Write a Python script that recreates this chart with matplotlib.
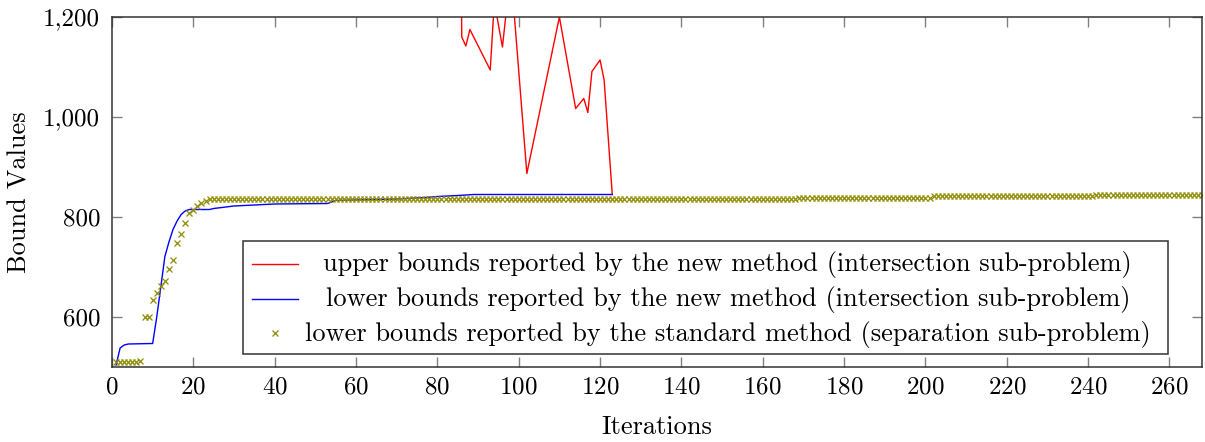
import matplotlib
matplotlib.use("Agg")
import matplotlib.pyplot as plt
from matplotlib.ticker import FuncFormatter, MultipleLocator
from matplotlib.patches import Rectangle
from matplotlib.lines import Line2D

plt.rcParams['font.family'] = ['cmr10', 'DejaVu Serif']
plt.rcParams['axes.formatter.use_mathtext'] = True

# upper bounds, new method (values above 1,200 fall outside the view)
upper_it = [85, 86, 87, 88, 93, 94, 96, 97, 98, 99, 102, 110, 114, 116, 117, 118, 120, 121, 123]
upper_val = [2000, 1160, 1142, 1175, 1094, 1230, 1140, 1216, 1290, 1195, 887, 1200, 1017, 1037, 1009, 1091,
             1114, 1074, 845]

# lower bounds, new method
lower_it = [1, 2, 3, 4, 10, 11, 12, 13, 14, 15, 16, 17, 18, 19, 24, 25, 30, 35, 40, 53, 54, 55, 60, 70,
            77, 80, 85, 89, 123]
lower_val = [504, 538, 544, 546, 547, 600, 660, 721, 750, 775, 792, 805, 812, 815, 815, 817, 822, 824, 826,
             827, 830, 833, 834, 836, 839, 841, 843, 845, 845]

# lower bounds, standard method (one per iteration)
std_it = list(range(1, 269))
std_val = ([510] * 6 + [513, 600, 600, 635, 649, 662, 672, 696, 715, 749, 766, 789, 809, 815, 823, 829, 833]
           + [837] * 145 + [839] * 33 + [842] * 40 + [845] * 27)

fig = plt.figure(figsize=(12.05, 4.42), dpi=100)
ax = fig.add_axes([112 / 1205, 1 - 367 / 442, 1090 / 1205, 350 / 442])

ax.plot(upper_it, upper_val, color='#ff0000', lw=1.0)
ax.plot(lower_it, lower_val, color='#0000ff', lw=1.0)
olive = '#8f8c00'
ax.plot(std_it, std_val, ls='none', marker='x', ms=4.5, mew=0.9, color=olive)

ax.set_xlim(0, 268)
ax.set_ylim(500, 1200)
ax.xaxis.set_major_locator(MultipleLocator(20))
ax.yaxis.set_major_locator(MultipleLocator(200))
ax.yaxis.set_major_formatter(FuncFormatter(lambda v, p: '{:,.0f}'.format(v)))

fs = 19
ax.tick_params(direction='in', length=7, width=1.0, color='#808080', labelsize=18,
               top=True, right=True)
ax.tick_params(axis='x', pad=7)
ax.tick_params(axis='y', pad=8.5)
for s in ax.spines.values():
    s.set_linewidth(1.1)
    s.set_color('#333333')

ax.set_xlabel('Iterations', fontsize=fs)
ax.set_ylabel('Bound Values', fontsize=fs)
ax.xaxis.set_label_coords(0.5, -0.137)
ax.yaxis.set_label_coords(-0.0734, 0.5)

# legend, text centred as in pgfplots
box = Rectangle((0.1205, 0.0363), 0.969 - 0.1205, 0.359 - 0.0363, transform=ax.transAxes,
                facecolor='white', edgecolor='#333333', lw=1.1, zorder=5)
ax.add_patch(box)
labels = ['upper bounds reported by the new method (intersection sub-problem)',
          'lower bounds reported by the new method (intersection sub-problem)',
          'lower bounds reported by the standard method (separation sub-problem)']
rows = [0.2951, 0.1951, 0.0971]
ax.add_line(Line2D([0.1284, 0.1706], [rows[0]] * 2, color='#ff0000', lw=1.0, transform=ax.transAxes, zorder=6))
ax.add_line(Line2D([0.1284, 0.1706], [rows[1]] * 2, color='#0000ff', lw=1.0, transform=ax.transAxes, zorder=6))
ax.add_line(Line2D([0.1493], [rows[2]], ls='none', marker='x', ms=4, mew=0.9, color=olive,
                   transform=ax.transAxes, zorder=6))
for lab, r in zip(labels, rows):
    ax.text(0.565, r - 0.0214, lab, transform=ax.transAxes, ha='center', va='baseline',
            fontsize=fs, zorder=7)

fig.savefig('out.png', dpi=100)
